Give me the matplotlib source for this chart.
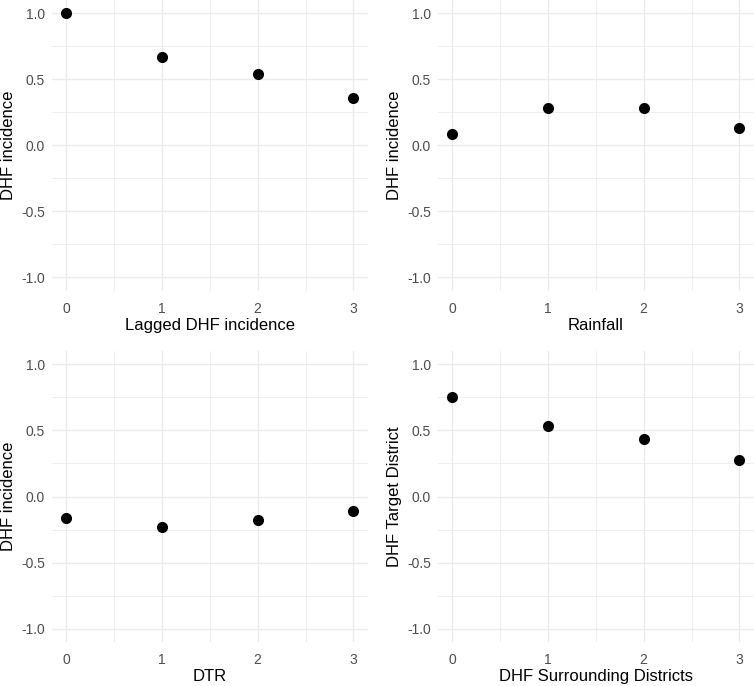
import matplotlib
matplotlib.use("Agg")
import matplotlib.pyplot as plt
from matplotlib.ticker import MultipleLocator

plt.rcParams["font.family"] = ["Liberation Sans", "DejaVu Sans"]

# lags on the x axis
lags = [0, 1, 2, 3]

# correlation values per panel
lagged_dhf = [1.0, 0.665, 0.54, 0.36]
rainfall = [0.085, 0.281, 0.281, 0.13]
dtr = [-0.16, -0.227, -0.178, -0.108]
surrounding = [0.753, 0.531, 0.431, 0.277]

x_titles = ["Lagged DHF incidence", "Rainfall", "DTR", "DHF Surrounding Districts"]
y_titles = ["DHF incidence", "DHF incidence", "DHF incidence", "DHF Target District"]
y_ticks = [-1.0, -0.5, 0.0, 0.5, 1.0]

W, H = 754, 686
GRID_COLOR = "#EBEBEB"
TICK_COLOR = "#4D4D4D"


def px_axes(fig, left, top, right, bottom):
    return fig.add_axes([left / W, 1 - bottom / H, (right - left) / W, (bottom - top) / H])


def draw_panel(ax, values, xtitle, ytitle):
    ax.set_axisbelow(True)
    ax.scatter(lags, values, s=64, color="black", zorder=3, linewidths=0)
    ax.set_xlim(-0.15, 3.15)
    ax.set_ylim(-1.1, 1.1)
    ax.set_xticks(lags)
    ax.set_yticks(y_ticks)
    ax.set_yticklabels([f"{t:.1f}" for t in y_ticks])
    ax.xaxis.set_minor_locator(MultipleLocator(0.5))
    ax.yaxis.set_minor_locator(MultipleLocator(0.25))
    ax.grid(True, which="major", color=GRID_COLOR, linewidth=1.0)
    ax.grid(True, which="minor", color=GRID_COLOR, linewidth=0.6)
    for s in ax.spines.values():
        s.set_visible(False)
    ax.tick_params(which="both", length=0)
    ax.tick_params(axis="x", pad=8, labelsize=10, labelcolor=TICK_COLOR)
    ax.tick_params(axis="y", pad=5, labelsize=10, labelcolor=TICK_COLOR)
    ax.set_xlabel(xtitle, fontsize=12, va="center")
    ax.set_ylabel(ytitle, fontsize=12, va="center")
    ax.xaxis.set_label_coords(0.5, -0.119)
    ax.yaxis.set_label_coords(-0.139, 0.5)


fig = plt.figure(figsize=(W / 100, H / 100), dpi=100)

axes = [
    px_axes(fig, 52, 0, 367.7, 290.5),
    px_axes(fig, 438, 0, 753.7, 290.5),
    px_axes(fig, 52, 350.8, 367.7, 642.2),
    px_axes(fig, 438, 350.8, 753.7, 642.2),
]

for ax, vals, xt, yt in zip(axes, [lagged_dhf, rainfall, dtr, surrounding], x_titles, y_titles):
    draw_panel(ax, vals, xt, yt)

fig.savefig("out.png", dpi=100)
